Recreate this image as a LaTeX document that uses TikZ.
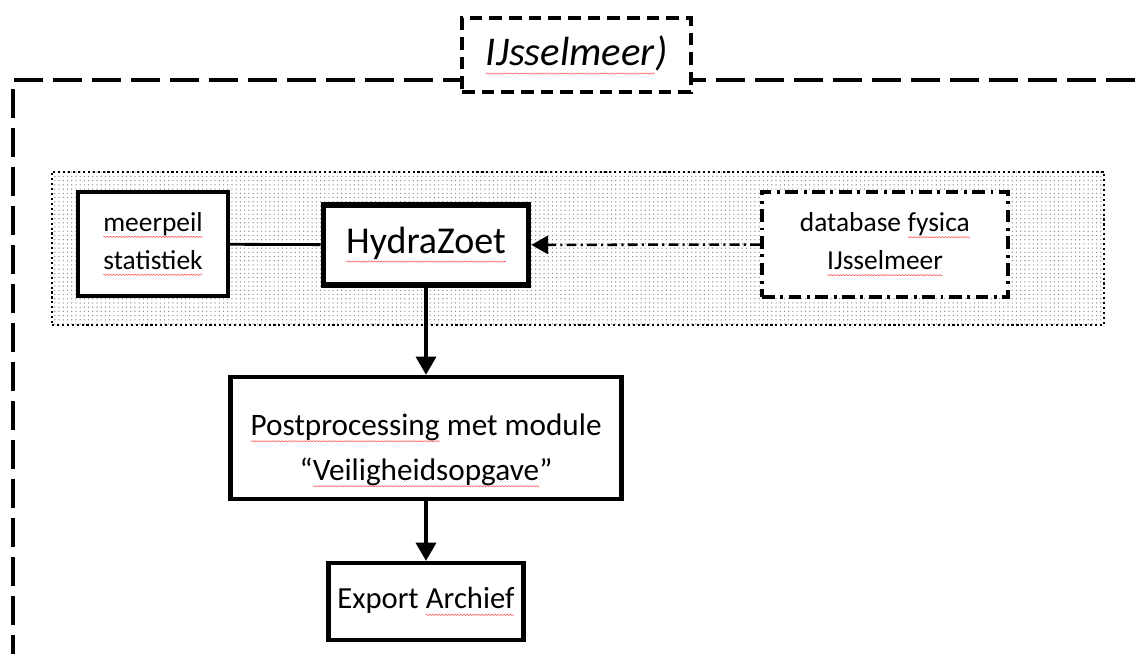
\documentclass[tikz,border=0pt]{standalone}
\usepackage{fontspec}
\setmainfont{Carlito}
\usepackage{tikz}
\usetikzlibrary{shapes, arrows.meta, positioning, patterns, decorations.pathmorphing}

% red spell-check squiggle under a word
\newcommand{\spellmark}[1]{\tikz[baseline=(w.base)]{\node[inner sep=0pt, outer sep=0pt, minimum width=0pt, minimum height=0pt, draw=none, fill=none] (w) {#1};
  \draw[red!65, line width=0.4pt, solid, decorate, decoration={snake, amplitude=0.45pt, segment length=2.2pt}]
    ([yshift=-0.2em]w.base west) -- ([yshift=-0.2em]w.base east);}}

\begin{document}
\begin{tikzpicture}[
            box/.style={draw, rectangle, fill=white, line width=3pt, align=center, inner sep=0pt},
            smallbox/.style={box, font=\fontsize{19.5}{27}\selectfont},
            bigfont/.style={font=\fontsize{22.2}{32}\selectfont},
            frameline/.style={line width=2.7pt, dash pattern=on 0.725cm off 0.25cm},
            flow/.style={-{Triangle[length=13pt, width=14pt]}, line width=3pt}]

            \useasboundingbox (0,0) rectangle (28.4,-16.325);

            % outer dashed frame
            \draw[frameline] (0.325,-16.6) -- (0.325,-2.0) -- (28.6,-2.0);
            \node[box, line width=2.3pt, dash pattern=on 9pt off 5pt, minimum width=5.725cm, minimum height=1.85cm,
                  font=\fontsize{29}{30}\selectfont\itshape] (title) at (14.41,-1.375) {\spellmark{IJsselmeer})};

            % dotted area
            \node[draw, dotted, line width=1.5pt, pattern=dots, pattern color=black!45,
                  minimum width=26.3cm, minimum height=3.825cm] (area) at (14.45,-6.21) {};

            \node[smallbox, minimum width=3.75cm, minimum height=2.6cm] (meerpeil) at (3.825,-6.1)
                {\spellmark{meerpeil}\\\spellmark{statistiek}};
            \node[box, font=\fontsize{27}{30}\selectfont, line width=4pt, minimum width=5.125cm, minimum height=2.0cm] (hydra) at (10.65,-6.125)
                {\spellmark{HydraZoet}};
            \node[smallbox, dash pattern=on 9pt off 4pt on 2pt off 4pt,
                  minimum width=6.15cm, minimum height=2.625cm] (fysica) at (22.125,-6.11)
                {database \spellmark{fysica}\\\spellmark{IJsselmeer}};

            \node[box, bigfont, minimum width=9.775cm, minimum height=3.05cm, text height=2.3cm, text depth=0.2cm] (post) at (10.65,-10.95)
                {\spellmark{Postprocessing} met module\\``\spellmark{Veiligheidsopgave}''};
            \node[box, bigfont, font=\fontsize{21.8}{30}\selectfont, minimum width=4.875cm, minimum height=1.925cm] (export) at (10.65,-15.04)
                {Export \spellmark{Archief}};

            \draw[line width=2pt] (meerpeil) -- (hydra);
            \draw[-{Triangle[length=12pt, width=13pt]}, line width=1.8pt, dash pattern=on 7pt off 3pt on 1.5pt off 3pt]
                (fysica) -- (hydra);
            \draw[flow] (hydra) -- (post);
            \draw[flow] (post) -- (export);
        \end{tikzpicture}
\end{document}
